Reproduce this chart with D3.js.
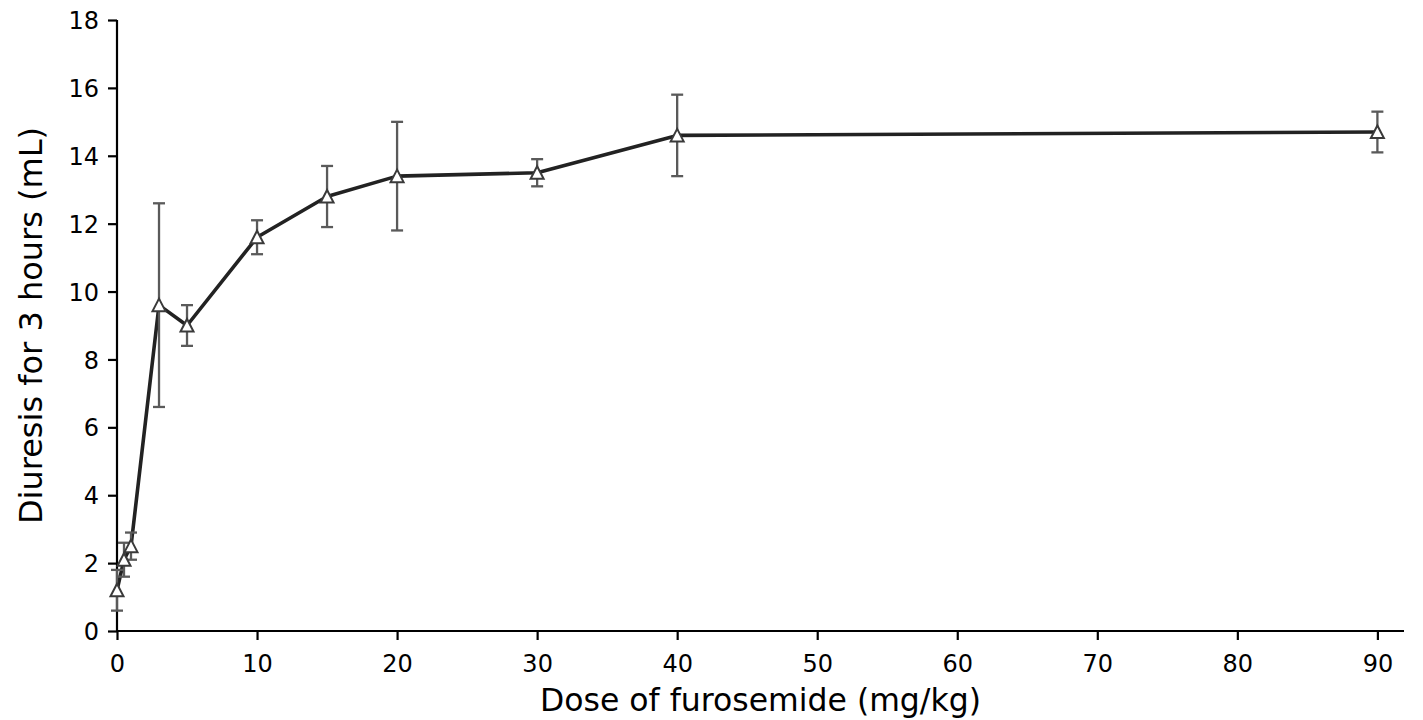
<!DOCTYPE html>
<html><head><meta charset="utf-8">
<script src="https://cdn.jsdelivr.net/npm/d3@7"></script>
<style>body{margin:0;background:#fff}svg{display:block}text{font-family:"DejaVu Sans",sans-serif}</style>
</head><body><svg id="c" width="1423" height="720"></svg>
<script>
const doses = [0, 0.5, 1, 3, 5, 10, 15, 20, 30, 40, 90];
const diuresis = [1.2, 2.1, 2.5, 9.6, 9.0, 11.6, 12.8, 13.4, 13.5, 14.6, 14.7];
const errors = [0.6, 0.5, 0.4, 3.0, 0.6, 0.5, 0.9, 1.6, 0.4, 1.2, 0.6];
const xTicks = [0, 10, 20, 30, 40, 50, 60, 70, 80, 90];
const yTicks = [0, 2, 4, 6, 8, 10, 12, 14, 16, 18];

const svg = d3.select("#c");
const m = {l: 117, r: 1404, t: 20, b: 631};
const x = d3.scaleLinear().domain([0, 91.9]).range([m.l, m.r]);
const y = d3.scaleLinear().domain([0, 18]).range([m.b, m.t]);

const xa = svg.append("g").attr("transform", `translate(0,${m.b})`)
  .call(d3.axisBottom(x).tickValues(xTicks).tickSize(9).tickPadding(15).tickFormat(d3.format("d")));
const ya = svg.append("g").attr("transform", `translate(${m.l},0)`)
  .call(d3.axisLeft(y).tickValues(yTicks).tickSize(9).tickPadding(9).tickFormat(d3.format("d")));
[xa, ya].forEach(a => {
  a.selectAll("path").attr("stroke", "#000").attr("stroke-width", 2.2);
  a.selectAll("line").attr("stroke", "#000").attr("stroke-width", 2.2);
  a.selectAll("text").attr("fill", "#000").style("font-size", "24px").style("font-family", "DejaVu Sans");
});
xa.selectAll("text").attr("dy", null).attr("y", 41);
ya.selectAll("text").attr("dy", "0.36em");
xa.select("path").attr("d", `M${m.l},0H${m.r}`);
ya.select("path").attr("d", `M0,${m.t}V${m.b}`);

svg.append("text").attr("x", (m.l + m.r) / 2).attr("y", 711).attr("text-anchor", "middle")
  .style("font-size", "31.5px").text("Dose of furosemide (mg/kg)");
svg.append("text").attr("transform", `translate(42,${(m.t + m.b) / 2}) rotate(-90)`).attr("text-anchor", "middle")
  .style("font-size", "32px").text("Diuresis for 3 hours (mL)");

const data = doses.map((d, i) => ({x: d, y: diuresis[i], e: errors[i]}));

svg.append("path").datum(data)
  .attr("fill", "none").attr("stroke", "#222").attr("stroke-width", 3.6).attr("stroke-linejoin", "round")
  .attr("d", d3.line().x(d => x(d.x)).y(d => y(d.y)));

const eb = svg.append("g").attr("stroke", "#5a5a5a").attr("stroke-width", 2.3);
data.forEach(d => {
  const cx = x(d.x), y0 = y(d.y - d.e), y1 = y(d.y + d.e);
  eb.append("line").attr("x1", cx).attr("x2", cx).attr("y1", y0).attr("y2", y1);
  eb.append("line").attr("x1", cx - 6).attr("x2", cx + 6).attr("y1", y0).attr("y2", y0);
  eb.append("line").attr("x1", cx - 6).attr("x2", cx + 6).attr("y1", y1).attr("y2", y1);
});

const tri = "M0,-6.5L6.5,6L-6.5,6Z";
svg.append("g").selectAll("path").data(data).join("path")
  .attr("transform", d => `translate(${x(d.x)},${y(d.y)})`)
  .attr("d", tri)
  .attr("fill", "#fff").attr("stroke", "#3a3a3a").attr("stroke-width", 2).attr("stroke-linejoin", "miter");
</script></body></html>
